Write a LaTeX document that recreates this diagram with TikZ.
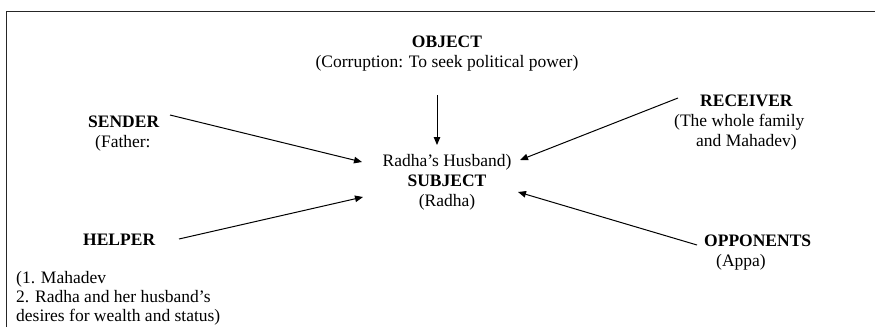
\documentclass[tikz,border=0pt]{standalone}
\usepackage{fontspec}
\setmainfont{Liberation Serif}
\usetikzlibrary{arrows.meta}
\begin{document}
\begin{tikzpicture}[x=1pt,y=-1pt,
  lbl/.style={font=\fontsize{17.5}{20}\selectfont, inner sep=0pt, text=black},
  conn/.style={line width=1pt, black, -{Triangle[length=8pt,width=6.5pt]}},
  frameline/.style={line width=1pt, black!85}]
\useasboundingbox (0,0) rectangle (875,327);
\draw[frameline] (6,327) -- (6,11) -- (875,11);

\node[lbl, align=center] (object) at (447,53.5) {\textbf{OBJECT}\\(Corruption: To seek political power)};
\node[lbl, align=center] (subject) at (447,182) {Radha’s Husband)\\\textbf{SUBJECT}\\(Radha)};
\node[lbl, align=left, anchor=west] (sender) at (88,133.5) {\textbf{SENDER}\\\hspace*{7pt}(Father:};
\node[lbl, align=left, anchor=west] (receiver) at (674,123) {\hspace*{26pt}\textbf{RECEIVER}\\(The whole family\\\hspace*{22pt}and Mahadev)};
\node[lbl, anchor=west] (helper) at (83,240) {\textbf{HELPER}};
\node[lbl, align=left, anchor=west] (opponents) at (704,253) {\textbf{OPPONENTS}\\\hspace*{12pt}(Appa)};
\node[lbl, font=\fontsize{17.5}{19}\selectfont, align=left, anchor=south west] (helperlist) at (16,325.5) {(1. Mahadev\\2. Radha and her husband’s\\desires for wealth and status)};

\coordinate (objOut) at (437,95);
\coordinate (subjTop) at (437,145);
\coordinate (sendOut) at (170,115);
\coordinate (subjNW) at (362,162);
\coordinate (recOut) at (678,98);
\coordinate (subjNE) at (520,160);
\coordinate (helpOut) at (179,239);
\coordinate (subjSW) at (363,197);
\coordinate (oppOut) at (697,245);
\coordinate (subjSE) at (518,192);

\draw[conn] (objOut) -- (subjTop);
\draw[conn] (sendOut) -- (subjNW);
\draw[conn] (recOut) -- (subjNE);
\draw[conn] (helpOut) -- (subjSW);
\draw[conn] (oppOut) -- (subjSE);
\end{tikzpicture}
\end{document}
